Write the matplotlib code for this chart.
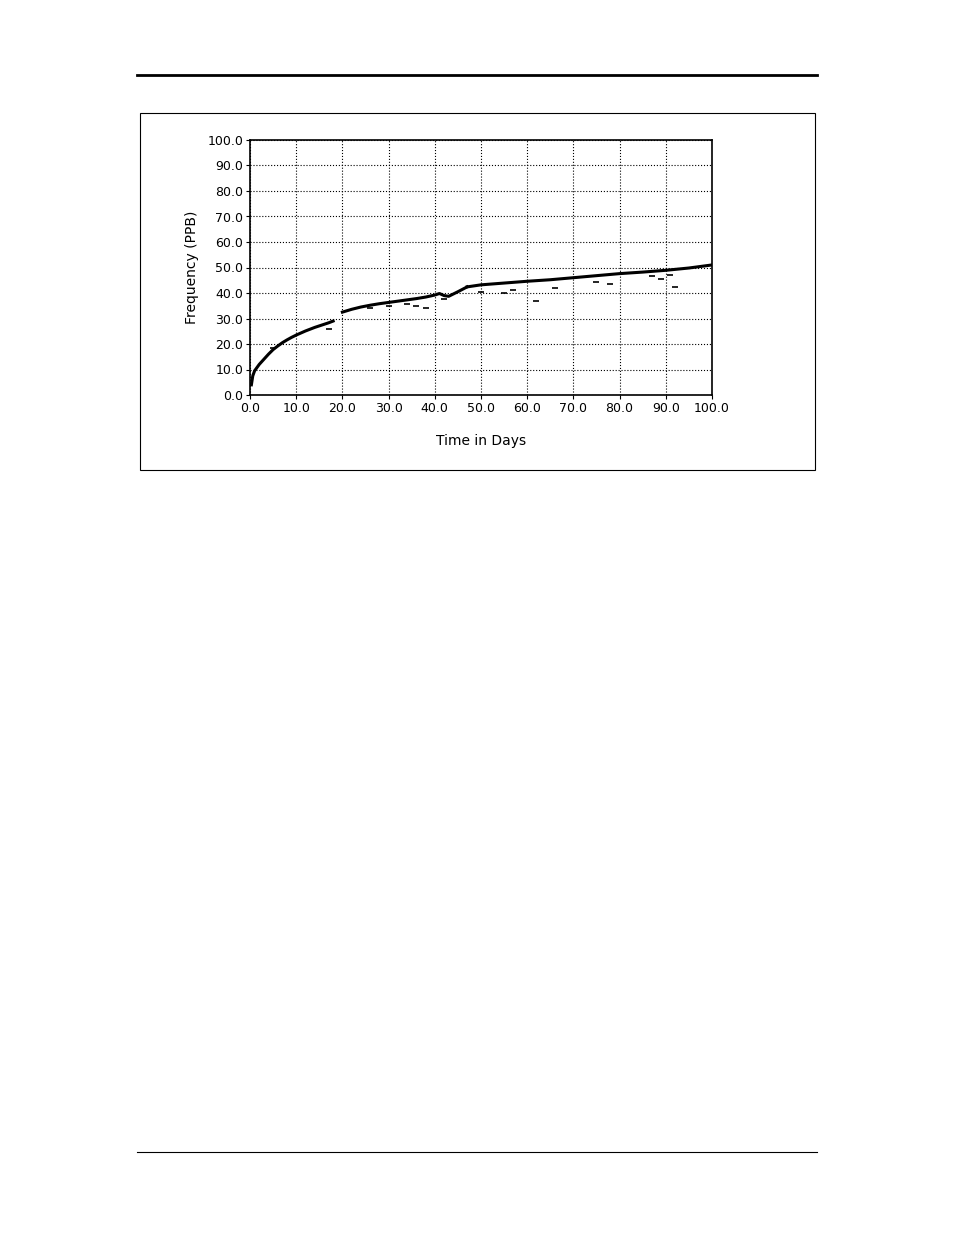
import matplotlib.pyplot as plt
from matplotlib.patches import Rectangle
from matplotlib.lines import Line2D

# main trend (three segments)
seg1_x = [0.3, 0.6, 1, 2, 3, 4, 5, 6, 7, 8, 9, 10, 11, 12, 13, 14, 15, 16, 17, 18]
seg1_y = [4.0, 7.5, 9.5, 12.0, 14.0, 16.0, 17.8, 19.2, 20.5, 21.6, 22.6, 23.5, 24.3, 25.1, 25.8, 26.5, 27.1, 27.7, 28.3, 29.0]
seg2_x = [20, 22, 24, 26, 28, 30, 32, 34, 36, 38, 40, 41, 42, 43, 45, 47]
seg2_y = [32.5, 33.6, 34.5, 35.2, 35.8, 36.3, 36.8, 37.3, 37.8, 38.4, 39.2, 39.8, 39.0, 38.7, 40.5, 42.4]
seg3_x = [47, 50, 55, 60, 65, 70, 75, 80, 85, 90, 95, 100]
seg3_y = [42.4, 43.2, 43.9, 44.6, 45.2, 46.0, 46.8, 47.6, 48.2, 48.9, 49.8, 51.0]

# scattered low readings
pts_x = [5, 17, 26, 30, 34, 36, 38, 42, 50, 55, 57, 62, 66, 75, 78, 87, 89, 91, 92]
pts_y = [18.5, 26.0, 34.2, 35.0, 35.5, 34.8, 34.0, 37.5, 40.5, 40.0, 41.0, 37.0, 42.0, 44.5, 43.5, 46.5, 45.5, 47.0, 42.5]

xticks = [0, 10, 20, 30, 40, 50, 60, 70, 80, 90, 100]
yticks = [0, 10, 20, 30, 40, 50, 60, 70, 80, 90, 100]

W, H = 954, 1235
fig = plt.figure(figsize=(W / 100, H / 100), dpi=100)
plt.rcParams['font.family'] = 'DejaVu Sans'

# page decorations
fig.add_artist(Line2D([137 / W, 817 / W], [1 - 75 / H] * 2, color='black', lw=2))
fig.add_artist(Line2D([137 / W, 817 / W], [1 - 1152 / H] * 2, color='black', lw=0.8))
fig.add_artist(Rectangle((140 / W, 1 - 470 / H), 675 / W, 357 / H, fill=False,
                         edgecolor='black', lw=0.8))

ax = fig.add_axes([250 / W, 1 - 395 / H, 462 / W, 255 / H])
ax.plot(seg1_x, seg1_y, color='black', lw=2.2)
ax.plot(seg2_x, seg2_y, color='black', lw=2.2)
ax.plot(seg3_x, seg3_y, color='black', lw=2.2)
ax.plot(pts_x, pts_y, ls='none', marker='_', color='black', ms=4, mew=1.2)

ax.set_xlim(0, 100)
ax.set_ylim(0, 100)
ax.set_xticks(xticks)
ax.set_yticks(yticks)
ax.set_xticklabels([f'{v:.1f}' for v in xticks], fontsize=9)
ax.set_yticklabels([f'{v:.1f}' for v in yticks], fontsize=9)
ax.tick_params(direction='out', length=3, width=0.8, pad=2)
ax.grid(True, ls=':', color='black', lw=0.8)
for s in ax.spines.values():
    s.set_linewidth(1.2)
ax.set_xlabel('Time in Days', fontsize=10, labelpad=14)
ax.set_ylabel('Frequency (PPB)', fontsize=10, labelpad=6)

fig.savefig('out.png', dpi=100)
